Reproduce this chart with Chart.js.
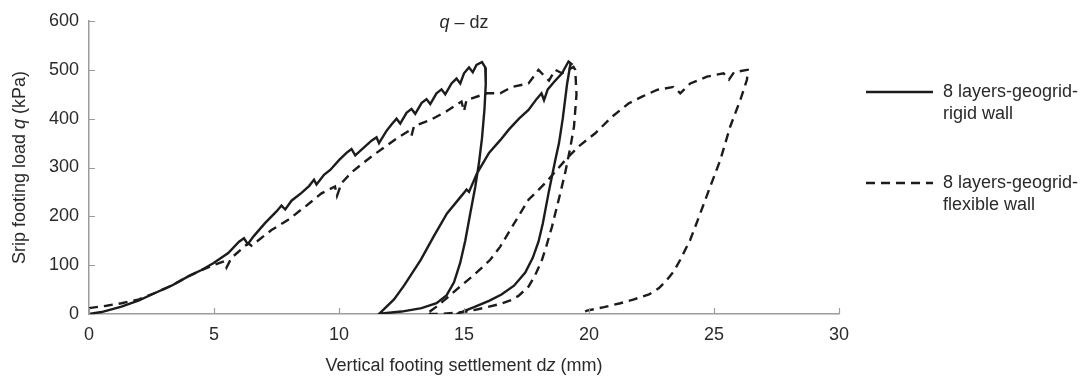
<!DOCTYPE html>
<html>
<head>
<meta charset="utf-8">
<script src="https://cdn.jsdelivr.net/npm/chart.js@4/dist/chart.umd.min.js"></script>
<style>
  html, body { margin: 0; padding: 0; background: #fff; }
  canvas { display: block; }
</style>
</head>
<body>
<canvas id="qdzChart" width="1085" height="376"></canvas>
<script>
// Rigid wall: load, unload, reload, unload (dz in mm, q in kPa)
const rigidDz = [0, 0.5, 1.3, 2, 2.64, 3.3, 3.97, 4.5, 4.97, 5.57, 6.0, 6.2, 6.35, 6.6, 7.04, 7.5, 7.7, 7.85, 8.1, 8.5,
  8.8, 9.0, 9.1, 9.4, 9.65, 10.0, 10.3, 10.5, 10.65, 10.98, 11.3, 11.5, 11.6, 11.9, 12.1, 12.3, 12.45, 12.7, 12.9, 13.05,
  13.3, 13.5, 13.65, 13.9, 14.1, 14.25, 14.5, 14.7, 14.85, 15.0, 15.2, 15.35, 15.5, 15.72, 15.85,
  15.87, 15.82, 15.72, 15.6, 15.45, 15.25, 15.05, 14.85, 14.6, 14.3, 13.9, 13.3, 12.5, 11.9, 11.6,
  12.2, 12.6, 13.27, 13.8, 14.32, 14.98, 15.1, 15.2, 15.52, 16.0, 16.45, 16.8, 17.2, 17.58, 17.9, 18.1, 18.2, 18.35, 18.6,
  18.92, 19.18, 19.3,
  19.25, 19.12, 18.95, 18.8, 18.65, 18.38, 18.15, 17.98, 17.75, 17.45, 17.0, 16.5, 16.0, 15.4, 15.0, 14.7];
const rigidQ = [0, 4, 15, 28, 43, 58, 77, 90, 104, 125, 148, 155, 143, 160, 186, 210, 222, 214, 232, 248,
  262, 275, 265, 285, 295, 315, 330, 338, 325, 340, 355, 362, 350, 375, 388, 400, 390, 412, 420, 410,
  432, 440, 430, 452, 460, 450, 472, 482, 472, 493, 505, 495, 510, 516, 505,
  470, 420, 360, 310, 260, 206, 150, 105, 65, 38, 22, 12, 5, 2, 0,
  30, 58, 111, 160, 206, 247, 255, 250, 288, 330, 356, 378, 400, 418, 440, 452, 438, 460, 475,
  493, 517, 512,
  510, 470, 400, 350, 315, 247, 185, 148, 115, 85, 58, 40, 27, 14, 6, 0];

// Flexible wall: same loading sequence
const flexDz = [0, 0.7, 1.3, 2, 2.64, 3.3, 3.97, 4.5, 5.04, 5.4, 5.5, 5.7, 6.37, 6.5, 7.3, 7.97, 8.7, 9.3, 9.84, 9.92,
  10.1, 10.5, 10.98, 11.5, 12.32, 12.8, 12.9, 13.0, 13.65, 14.3, 14.9, 15.0, 15.1, 15.92, 16.45, 16.92, 17.58, 17.98, 18.2,
  18.4, 18.65, 18.92, 19.38,
  19.45, 19.5, 19.4, 19.25, 19.05, 18.85, 18.52, 18.3, 18.12, 17.85, 17.58, 17.2, 16.92, 16.4, 15.92, 15.4, 14.98, 14.0,
  13.5, 13.9, 14.3, 14.7, 15.4, 16.05, 16.45, 17.0, 17.58, 18.25, 19.05, 19.58, 20.25, 20.92, 21.58, 22.12, 22.72, 23.38,
  23.65, 24.05, 24.72, 25.38, 25.6, 25.8, 26.32,
  26.35, 26.32, 26.05, 25.65, 25.25, 24.85, 24.45, 24.05, 23.65, 23.4, 23.12, 22.8, 22.4, 21.8, 21.25, 20.6, 19.92, 19.65];
const flexQ = [12, 17, 22, 30, 43, 58, 77, 90, 101, 108, 95, 115, 145, 140, 172, 193, 222, 247, 261, 242,
  268, 290, 310, 330, 360, 375, 365, 385, 397, 415, 435, 415, 438, 452, 452, 465, 472, 500, 488,
  478, 500, 493, 506,
  500, 450, 384, 340, 290, 247, 179, 140, 111, 80, 56, 38, 29, 20, 14, 8, 4, 0,
  0, 15, 32, 50, 80, 111, 138, 185, 234, 268, 315, 343, 370, 404, 431, 445, 459, 465,
  452, 472, 486, 493, 480, 495, 500,
  500, 480, 438, 384, 315, 261, 206, 152, 111, 88, 70, 53, 40, 30, 22, 14, 7, 0];

const seriesNames = [['8 layers-geogrid-', 'rigid wall'], ['8 layers-geogrid-', 'flexible wall']];

const textColor = '#2a2a2a';
const axisColor = '#9c9c9c';
const fontFamily = '"Liberation Sans", Arial, Helvetica, sans-serif';
const fontSize = 18;

const toPoints = (xs, ys) => xs.map((x, i) => ({ x: x, y: ys[i] }));

// draw a string made of runs, some of them italic
function drawRuns(ctx, runs, x, y, align) {
  const widths = runs.map(r => {
    ctx.font = (r.italic ? 'italic ' : '') + fontSize + 'px ' + fontFamily;
    return ctx.measureText(r.text).width;
  });
  const total = widths.reduce((a, b) => a + b, 0);
  let cx = align === 'center' ? x - total / 2 : x;
  ctx.textAlign = 'left';
  runs.forEach((r, i) => {
    ctx.font = (r.italic ? 'italic ' : '') + fontSize + 'px ' + fontFamily;
    ctx.fillText(r.text, cx, y);
    cx += widths[i];
  });
}

const decorations = {
  id: 'decorations',
  afterDraw(chart) {
    const { ctx, chartArea, scales } = chart;
    const xs = scales.x, ys = scales.y;
    ctx.save();

    // inward tick marks
    ctx.strokeStyle = axisColor;
    ctx.lineWidth = 1.2;
    ctx.beginPath();
    xs.ticks.forEach(t => {
      const px = Math.round(xs.getPixelForValue(t.value)) + 0.5;
      ctx.moveTo(px, chartArea.bottom);
      ctx.lineTo(px, chartArea.bottom - 6);
    });
    ys.ticks.forEach(t => {
      const py = Math.round(ys.getPixelForValue(t.value)) + 0.5;
      ctx.moveTo(chartArea.left, py);
      ctx.lineTo(chartArea.left + 6, py);
    });
    ctx.stroke();

    ctx.fillStyle = textColor;
    ctx.textBaseline = 'middle';

    // chart title
    drawRuns(ctx, [{ text: 'q', italic: true }, { text: ' \u2013 dz' }], (chartArea.left + chartArea.right) / 2, 23, 'center');

    // x axis title
    drawRuns(ctx, [{ text: 'Vertical footing settlement d' }, { text: 'z', italic: true }, { text: ' (mm)' }],
      (chartArea.left + chartArea.right) / 2, 366, 'center');

    // y axis title
    ctx.save();
    ctx.translate(20, (chartArea.top + chartArea.bottom) / 2);
    ctx.rotate(-Math.PI / 2);
    drawRuns(ctx, [{ text: 'Srip footing load ' }, { text: 'q', italic: true }, { text: ' (kPa)' }], 0, 0, 'center');
    ctx.restore();

    // legend
    const legendY = [92, 183];
    chart.data.datasets.forEach((ds, i) => {
      const y = legendY[i];
      ctx.strokeStyle = ds.borderColor;
      ctx.lineWidth = 2.4;
      ctx.setLineDash(ds.borderDash || []);
      ctx.beginPath();
      ctx.moveTo(866, y);
      ctx.lineTo(933, y);
      ctx.stroke();
      ctx.setLineDash([]);
      ctx.font = fontSize + 'px ' + fontFamily;
      ctx.textAlign = 'left';
      seriesNames[i].forEach((line, j) => ctx.fillText(line, 943, y + j * 22));
    });

    ctx.restore();
  }
};

new Chart(document.getElementById('qdzChart').getContext('2d'), {
  type: 'scatter',
  data: {
    datasets: [
      {
        label: seriesNames[0].join(''),
        data: toPoints(rigidDz, rigidQ),
        showLine: true,
        borderColor: '#1c1c1c',
        borderWidth: 2.4,
        pointRadius: 0,
        tension: 0,
        fill: false
      },
      {
        label: seriesNames[1].join(''),
        data: toPoints(flexDz, flexQ),
        showLine: true,
        borderColor: '#1c1c1c',
        borderWidth: 2.4,
        borderDash: [9, 6],
        pointRadius: 0,
        tension: 0,
        fill: false
      }
    ]
  },
  options: {
    responsive: false,
    animation: false,
    layout: { padding: { left: 0, right: 246, top: 21, bottom: 0 } },
    plugins: {
      legend: { display: false },
      title: { display: false },
      tooltip: { enabled: false }
    },
    scales: {
      x: {
        type: 'linear',
        min: 0,
        max: 30,
        ticks: { stepSize: 5, color: textColor, padding: 10, font: { family: fontFamily, size: fontSize } },
        grid: { display: false, drawTicks: false },
        border: { display: true, color: axisColor, width: 1.5 },
        afterFit(scale) { scale.height = 62; }
      },
      y: {
        type: 'linear',
        min: 0,
        max: 600,
        ticks: { stepSize: 100, color: textColor, padding: 10, font: { family: fontFamily, size: fontSize } },
        grid: { display: false, drawTicks: false },
        border: { display: true, color: axisColor, width: 1.5 },
        afterFit(scale) { scale.width = 89; }
      }
    }
  },
  plugins: [decorations]
});
</script>
</body>
</html>
